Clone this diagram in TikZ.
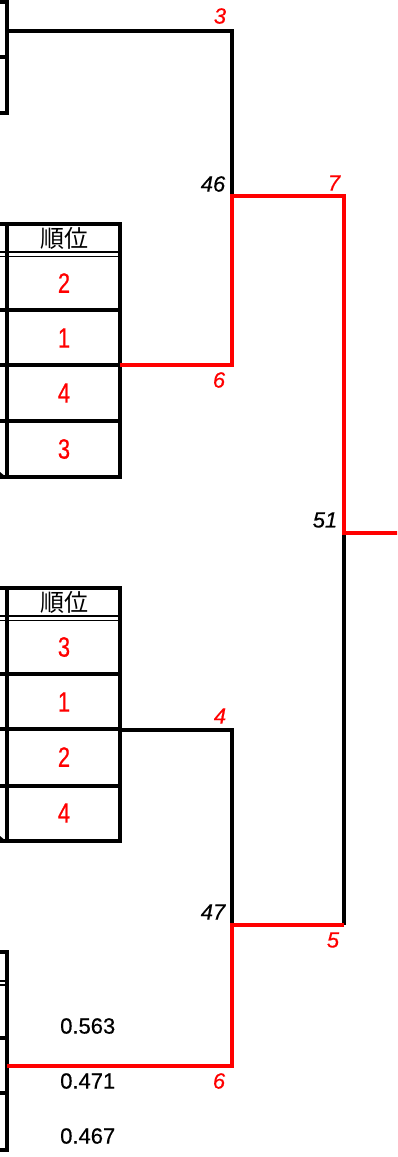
\documentclass[tikz,border=0pt]{standalone}
\usepackage{fontspec}
\setmainfont{Liberation Sans}
\newfontfamily\jpfont{Noto Sans CJK JP}
\newfontfamily\rankfont[FakeStretch=0.78,FakeBold=0.6]{Liberation Sans}
\newfontfamily\lblfont[FakeBold=0.5]{Liberation Sans}
\usepackage{tikz}
\usetikzlibrary{positioning}
\definecolor{WinRed}{HTML}{FF0000}
\newcommand{\rankcell}[3]{\node[rank] (#1) at (#2) {#3};}
\newcommand{\seedlbl}[3]{\node[seed] (#1) at (#2) {#3};}
\newcommand{\scorelbl}[3]{\node[score] (#1) at (#2) {#3};}

\begin{document}
\begin{tikzpicture}[
  x=1pt, y=-1pt,
  grid/.style={draw=black, line width=3.2pt},
  thin/.style={draw=black, line width=1.8pt},
  lose/.style={draw=black, line width=3.2pt},
  win/.style={draw=WinRed, line width=4.6pt},
  rank/.style={inner sep=0pt, text=WinRed, font=\rankfont\fontsize{28}{28}\selectfont},
  head/.style={inner sep=0pt, font=\jpfont\fontsize{24}{24}\selectfont},
  seed/.style={inner sep=0pt, text=WinRed, font=\lblfont\itshape\fontsize{22}{22}\selectfont},
  score/.style={inner sep=0pt, font=\lblfont\itshape\fontsize{22}{22}\selectfont},
  val/.style={inner sep=0pt, anchor=west, font=\lblfont\fontsize{22}{22}\selectfont},
]
\useasboundingbox (0,0) rectangle (397,1157);
\clip (0,0) rectangle (397,1157);

%% ── Table 0 (top, cut off) ───────────────────────────────────────────────
\draw[grid] (7,-5) -- (7,113);
\draw[grid] (-5,2) -- (7,2);
\draw[grid] (-5,57) -- (7,57);
\draw[grid] (-5,113) -- (8.6,113);

%% ── Table 1 ──────────────────────────────────────────────────────────────
\draw[grid] (-5,224) -- (120,224) -- (120,477) -- (-5,477);
\draw[grid] (7,224) -- (7,477);
\draw[thin] (-5,252) -- (120,252);
\draw[thin] (-5,256.5) -- (120,256.5);
\draw[grid] (-5,310) -- (120,310);
\draw[grid] (-5,365) -- (120,365);
\draw[grid] (-5,421) -- (120,421);
\fill (0,472) -- (6,477) -- (0,477) -- cycle;

\node[head] (H1) at (64,238) {順位};
\rankcell{R11}{64,283}{2}
\rankcell{R12}{64,338}{1}
\rankcell{R13}{64,393}{4}
\rankcell{R14}{64,449}{3}

%% ── Table 2 ──────────────────────────────────────────────────────────────
\draw[grid] (-5,588) -- (120,588) -- (120,841) -- (-5,841);
\draw[grid] (7,588) -- (7,841);
\draw[thin] (-5,616) -- (120,616);
\draw[thin] (-5,620.5) -- (120,620.5);
\draw[grid] (-5,674) -- (120,674);
\draw[grid] (-5,729) -- (120,729);
\draw[grid] (-5,786) -- (120,786);
\fill (0,836) -- (6,841) -- (0,841) -- cycle;

\node[head] (H2) at (64,602) {順位};
\rankcell{R21}{64,647}{3}
\rankcell{R22}{64,702}{1}
\rankcell{R23}{64,757}{2}
\rankcell{R24}{64,813}{4}

%% ── Table 3 (bottom) ─────────────────────────────────────────────────────
\draw[grid] (7,952) -- (7,1150);
\draw[grid] (-5,952) -- (8.6,952);
\draw[thin] (-5,981) -- (8.6,981);
\draw[thin] (-5,985) -- (8.6,985);
\draw[grid] (-5,1038) -- (7,1038);
\draw[grid] (-5,1093) -- (7,1093);
\draw[grid] (-5,1150) -- (8.6,1150);

\node[val] (V1) at (60,1026) {0.563};
\node[val] (V2) at (60,1081) {0.471};
\node[val] (V3) at (60,1136) {0.467};

%% ── Bracket points ───────────────────────────────────────────────────────
\coordinate (T0) at (7,31);
\coordinate (T1) at (120,365);
\coordinate (T2) at (120,730);
\coordinate (T3) at (7,1066);
\coordinate (a3) at (232,31);
\coordinate (a6) at (232,365);
\coordinate (j46) at (232,196);
\coordinate (m7) at (344,196);
\coordinate (j51) at (344,533);
\coordinate (fin) at (400,533);
\coordinate (a4) at (232,730);
\coordinate (a6b) at (232,1066);
\coordinate (j47) at (232,925);
\coordinate (m5) at (344,925);

%% ── Losing lines ─────────────────────────────────────────────────────────
\draw[lose] (T0) -- (a3) -- (j46);
\draw[lose] (T2) -- (a4) -- (j47);
\draw[lose] (j51) -- (m5);

%% ── Winning lines ────────────────────────────────────────────────────────
\draw[win] (T1) -- (a6) -- (j46) -- (m7) -- (j51) -- (fin);
\draw[win] (T3) -- (a6b) -- (j47) -- (m5);

%% ── Labels ───────────────────────────────────────────────────────────────
\seedlbl{L3}{220,16}{3}
\seedlbl{L6a}{219,380}{6}
\seedlbl{L7}{334,183}{7}
\seedlbl{L4}{220,716}{4}
\seedlbl{L5}{333,940}{5}
\seedlbl{L6b}{219,1081}{6}
\scorelbl{S46}{213,184}{46}
\scorelbl{S51}{325,520}{51}
\scorelbl{S47}{213,912}{47}

\end{tikzpicture}
\end{document}
